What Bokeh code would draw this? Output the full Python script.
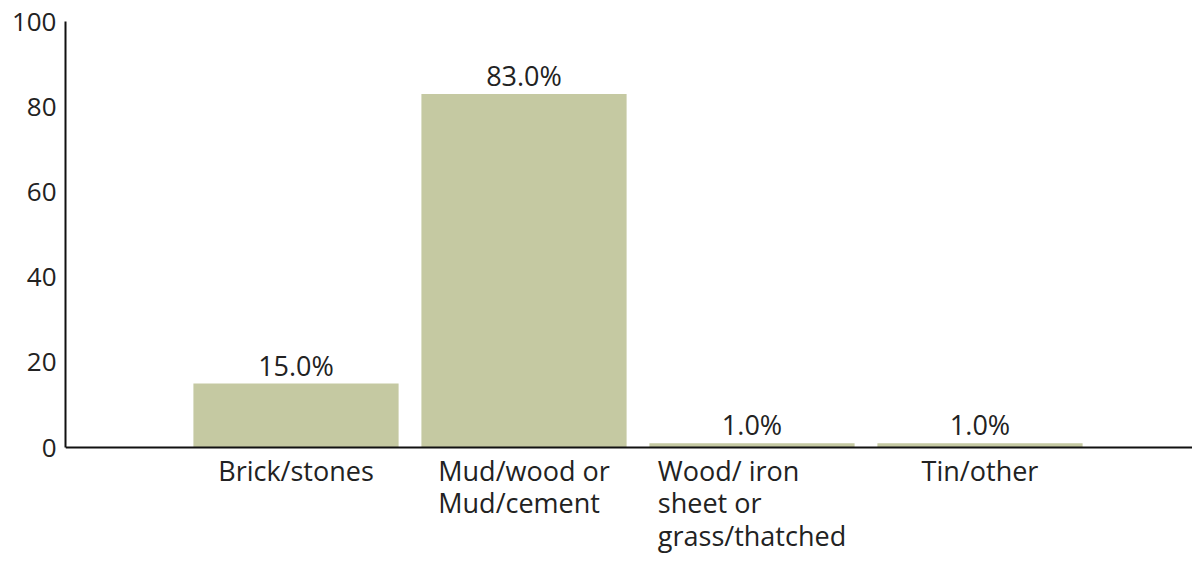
from bokeh.plotting import figure
from bokeh.models import ColumnDataSource, Range1d, FixedTicker, Span
from bokeh.core.properties import value
from bokeh.embed import file_html
from bokeh.resources import INLINE

categories = ["Brick/stones", "Mud/wood or\nMud/cement", "Wood/ iron\nsheet or\ngrass/thatched", "Tin/other"]
values = [15.0, 83.0, 1.0, 1.0]
y_ticks = [0, 20, 40, 60, 80, 100]

xs = list(range(len(categories)))
labels = [f"{v:.1f}%" for v in values]
src = ColumnDataSource(dict(x=xs, top=values, label=labels, cat=categories, base=[0] * len(xs)))

FONT = "Open Sans"
TXT = "#222222"

p = figure(width=1192, height=555, output_backend="svg", toolbar_location=None,
           x_range=Range1d(-1.011, 3.932), y_range=Range1d(-25.35, 100),
           min_border_left=65, min_border_right=0, min_border_top=21, min_border_bottom=0)
p.outline_line_color = None
p.grid.grid_line_color = None
p.background_fill_color = "white"
p.xaxis.visible = False

p.vbar(x="x", top="top", width=0.9, bottom=0, source=src,
       fill_color="#c5c9a2", line_color=None)

# x axis line at zero
p.add_layout(Span(location=0, dimension="width", line_color="#111111", line_width=2))

# value labels above bars
p.text(x="x", y="top", text="label", source=src, text_align="center",
       text_baseline="bottom", y_offset=0, text_font=value(FONT),
       text_font_size="27px", text_color=TXT)

# category labels below the axis (centered block, left-aligned lines)
p.text(x="x", y="base", text="cat", source=src, anchor="top_center", text_align="left",
       text_baseline="top", y_offset=4, text_font=value(FONT),
       text_font_size="27px", text_line_height=0.88, text_color=TXT)

ya = p.yaxis[0]
ya.ticker = FixedTicker(ticks=y_ticks)
ya.bounds = (0, 100)
ya.major_tick_line_color = None
ya.minor_tick_line_color = None
ya.axis_line_color = "#111111"
ya.axis_line_width = 2
ya.major_label_text_font = FONT
ya.major_label_text_font_size = "26px"
ya.major_label_text_color = TXT
ya.major_label_standoff = 3

open("out.html", "w").write(file_html(p, INLINE))
